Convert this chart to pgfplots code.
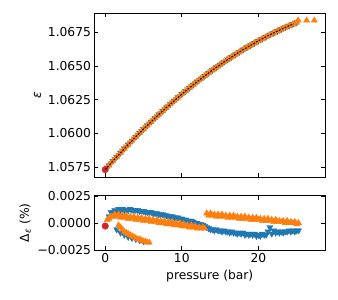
\documentclass[border=0pt]{standalone}
\usepackage{fontspec}
\setmainfont{DejaVu Sans}
\usepackage{pgfplots}
\usepackage{pgfplotstable}
\pgfplotsset{compat=1.18}
\definecolor{tabblue}{HTML}{1F77B4}
\definecolor{taborange}{HTML}{FF7F0E}
\definecolor{tabred}{HTML}{D62728}

\pgfplotstableread{
p eps
0.5 1.05762
1.0 1.05794
1.5 1.05825
2.0 1.05855
2.5 1.05886
3.0 1.05916
3.5 1.05945
4.0 1.05974
4.5 1.06003
5.0 1.06031
5.5 1.06059
6.0 1.06086
6.5 1.06113
7.0 1.06140
7.5 1.06166
8.0 1.06192
8.5 1.06217
9.0 1.06242
9.5 1.06267
10.0 1.06291
10.5 1.06315
11.0 1.06338
11.5 1.06361
12.0 1.06384
12.5 1.06406
13.0 1.06427
13.5 1.06449
14.0 1.06470
14.5 1.06490
15.0 1.06510
15.5 1.06530
16.0 1.06549
16.5 1.06568
17.0 1.06586
17.5 1.06604
18.0 1.06622
18.5 1.06639
19.0 1.06655
19.5 1.06672
20.0 1.06688
20.5 1.06703
21.0 1.06718
21.5 1.06733
22.0 1.06747
22.5 1.06761
23.0 1.06774
23.5 1.06788
24.0 1.06800
24.5 1.06812
25.0 1.06824
}\mainA

\pgfplotstableread{
p eps
0.25 1.05746
0.75 1.05778
1.25 1.05810
1.75 1.05840
2.25 1.05871
2.75 1.05901
3.25 1.05931
3.75 1.05960
4.25 1.05989
4.75 1.06017
5.25 1.06045
5.75 1.06073
6.25 1.06100
6.75 1.06127
7.25 1.06153
7.75 1.06179
8.25 1.06205
8.75 1.06230
9.25 1.06255
9.75 1.06279
10.25 1.06303
10.75 1.06327
11.25 1.06350
11.75 1.06373
12.25 1.06395
12.75 1.06417
13.25 1.06438
13.75 1.06460
14.25 1.06480
14.75 1.06500
15.25 1.06520
15.75 1.06540
16.25 1.06559
16.75 1.06577
17.25 1.06595
17.75 1.06613
18.25 1.06631
18.75 1.06647
19.25 1.06664
19.75 1.06680
20.25 1.06696
20.75 1.06711
21.25 1.06726
21.75 1.06740
22.25 1.06754
22.75 1.06768
23.25 1.06781
23.75 1.06794
24.25 1.06806
24.75 1.06818
}\mainB

\pgfplotstableread{
p eps
25.2 1.06840
26.3 1.06840
27.3 1.06840
}\mainEnd

\pgfplotstableread{
p eps
0.0 1.05730
1.0 1.05794
2.0 1.05855
3.0 1.05916
4.0 1.05974
5.0 1.06031
6.0 1.06086
7.0 1.06140
8.0 1.06192
9.0 1.06242
10.0 1.06291
11.0 1.06338
12.0 1.06384
13.0 1.06427
14.0 1.06470
15.0 1.06510
16.0 1.06549
17.0 1.06586
18.0 1.06622
19.0 1.06655
20.0 1.06688
21.0 1.06718
22.0 1.06747
23.0 1.06774
24.0 1.06800
24.6 1.06815
}\fitline

\pgfplotstableread{
p d
0.5 0.0006
1.0 0.0010
1.5 0.0011
2.0 0.0012
2.5 0.0012
3.0 0.0012
3.5 0.0012
4.0 0.0012
4.5 0.0011
5.0 0.0011
5.5 0.0010
6.0 0.0010
6.5 0.0009
7.0 0.0008
7.5 0.0008
8.0 0.0007
8.5 0.0006
9.0 0.0005
9.5 0.0005
10.0 0.0004
10.5 0.0003
11.0 0.0002
11.5 0.0001
12.0 0.0000
12.5 -0.0001
13.0 -0.0003
13.5 -0.0005
14.0 -0.0006
14.5 -0.0006
15.0 -0.0007
15.5 -0.0007
16.0 -0.0008
16.5 -0.0008
17.0 -0.0009
17.5 -0.0009
18.0 -0.0009
18.5 -0.0010
19.0 -0.0010
19.5 -0.0010
20.0 -0.0011
20.5 -0.0010
21.0 -0.0011
21.5 -0.0004
22.0 -0.0007
22.5 -0.0008
23.0 -0.0008
23.5 -0.0008
24.0 -0.0007
24.5 -0.0007
25.0 -0.0007
}\resBlueA

\pgfplotstableread{
p d
0.75 0.0010
1.25 0.0012
1.75 0.0013
2.25 0.0013
2.75 0.0012
3.25 0.0013
3.75 0.0012
4.25 0.0012
4.75 0.0011
5.25 0.0010
5.75 0.0010
6.25 0.0009
6.75 0.0009
7.25 0.0008
7.75 0.0007
8.25 0.0006
8.75 0.0006
9.25 0.0005
9.75 0.0004
10.25 0.0003
10.75 0.0002
11.25 0.0002
11.75 0.0000
12.25 -0.0001
12.75 -0.0002
13.25 -0.0004
13.75 -0.0006
14.25 -0.0007
14.75 -0.0007
15.25 -0.0008
15.75 -0.0008
16.25 -0.0009
16.75 -0.0009
17.25 -0.0010
17.75 -0.0010
18.25 -0.0011
18.75 -0.0011
19.25 -0.0011
19.75 -0.0012
20.25 -0.0012
20.75 -0.0011
21.25 -0.0008
21.75 -0.0010
22.25 -0.0009
22.75 -0.0009
23.25 -0.0009
23.75 -0.0008
24.25 -0.0008
24.75 -0.0008
25.25 -0.0007
}\resBlueC

\pgfplotstableread{
p d
1.5 -0.0006
2.0 -0.0009
2.5 -0.0011
3.0 -0.0013
3.5 -0.0014
4.0 -0.0015
4.5 -0.0016
5.0 -0.0017
}\resBlueB

\pgfplotstableread{
p d
0.25 0.0003
0.75 0.0006
1.25 0.0008
1.75 0.0008
2.25 0.0007
2.75 0.0007
3.25 0.0006
3.75 0.0006
4.25 0.0005
4.75 0.0005
5.25 0.0004
5.75 0.0004
6.25 0.0003
6.75 0.0003
7.25 0.0002
7.75 0.0002
8.25 0.0001
8.75 0.0001
9.25 0.0000
9.75 0.0000
10.25 -0.0001
10.75 -0.0002
11.25 -0.0002
11.75 -0.0003
12.25 -0.0004
12.75 -0.0004
13.25 0.0009
13.75 0.0009
14.25 0.0008
14.75 0.0008
15.25 0.0008
15.75 0.0007
16.25 0.0007
16.75 0.0007
17.25 0.0006
17.75 0.0006
18.25 0.0006
18.75 0.0005
19.25 0.0005
19.75 0.0005
20.25 0.0004
20.75 0.0004
21.25 0.0004
21.75 0.0003
22.25 0.0003
22.75 0.0002
23.25 0.0002
23.75 0.0002
24.25 0.0001
24.75 0.0001
25.25 0.0000
}\resOrA

\pgfplotstableread{
p d
0.5 0.0004
1.0 0.0006
1.5 0.0006
2.0 0.0005
2.5 0.0005
3.0 0.0004
3.5 0.0004
4.0 0.0003
4.5 0.0003
5.0 0.0002
5.5 0.0002
6.0 0.0001
6.5 0.0001
7.0 0.0000
7.5 0.0000
8.0 -0.0001
8.5 -0.0001
9.0 -0.0002
9.5 -0.0002
10.0 -0.0003
10.5 -0.0003
11.0 -0.0004
11.5 -0.0004
12.0 -0.0005
12.5 -0.0005
13.0 -0.0005
13.5 0.0007
14.0 0.0007
14.5 0.0006
15.0 0.0006
15.5 0.0006
16.0 0.0005
16.5 0.0005
17.0 0.0005
17.5 0.0004
18.0 0.0004
18.5 0.0004
19.0 0.0003
19.5 0.0003
20.0 0.0003
20.5 0.0002
21.0 0.0002
21.5 0.0002
22.0 0.0001
22.5 0.0001
23.0 0.0001
23.5 0.0000
24.0 0.0000
24.5 0.0000
25.0 -0.0001
}\resOrC

\pgfplotstableread{
p d
1.75 -0.0002
2.00 -0.0004
2.25 -0.0006
2.50 -0.0008
2.75 -0.0009
3.00 -0.0010
3.25 -0.0011
3.50 -0.0012
3.75 -0.0013
4.00 -0.0014
4.25 -0.0015
4.50 -0.0015
4.75 -0.0016
5.00 -0.0017
5.25 -0.0017
5.50 -0.0018
5.75 -0.0018
}\resOrB

\pgfplotsset{
  myaxis/.style={
    scale only axis,
    width=230.5bp,
    xmin=-1.4, xmax=28.7,
    tick align=inside,
    major tick length=4bp,
    axis line style={line width=0.8bp},
    every tick/.style={black, line width=0.8bp},
    xtick={0,10,20},
    scaled y ticks=false,
    scaled x ticks=false,
    /pgf/number format/assume math mode=true,
    clip=true,
    clip marker paths=true,
  },
  bluedown/.style={only marks, mark=triangle*, mark size=3.6bp,
    mark options={rotate=180, fill=tabblue, draw=tabblue, line width=0.3bp}},
  orup/.style={only marks, mark=triangle*, mark size=3.6bp,
    mark options={fill=taborange, draw=taborange, line width=0.3bp}},
  ordown/.style={only marks, mark=triangle*, mark size=3.6bp,
    mark options={rotate=180, fill=taborange, draw=taborange, line width=0.3bp}},
}

\begin{document}
\begin{tikzpicture}[font=\fontsize{12.3bp}{14bp}\selectfont]
\path[use as bounding box] (0,0) rectangle (338bp,300bp);

\begin{axis}[myaxis,
  at={(94.5bp,123bp)}, anchor=south west,
  height=164bp,
  ymin=1.05675, ymax=1.06895,
  ytick={1.0575,1.06,1.0625,1.065,1.0675},
  yticklabels={1.0575,1.0600,1.0625,1.0650,1.0675},
  xticklabels={},
  ylabel={\itshape ε},
]
\addplot[bluedown] table[x=p,y=eps] {\mainA};
\addplot[orup, opacity=0.9] table[x=p,y=eps] {\mainA};
\addplot[ordown, opacity=0.9] table[x=p,y=eps] {\mainB};
\addplot[orup] table[x=p,y=eps] {\mainEnd};
\addplot[only marks, mark=*, mark size=3.3bp, mark options={fill=tabred, draw=tabred}] coordinates {(0,1.05730)};
\addplot[black, line width=1.0bp, dash pattern=on 1.8bp off 1.4bp] table[x=p,y=eps] {\fitline};
\end{axis}

\begin{axis}[myaxis,
  at={(94.5bp,50bp)}, anchor=south west,
  height=54.5bp,
  ymin=-0.0025, ymax=0.00255,
  ytick={-0.0025,0,0.0025},
  yticklabels={−0.0025,0.0000,0.0025},
  xticklabels={0,10,20},
  xlabel={pressure (bar)},
  ylabel={Δ\textsubscript{\itshape ε} (\%)},
]
\addplot[bluedown] table[x=p,y=d] {\resBlueA};
\addplot[bluedown] table[x=p,y=d] {\resBlueC};
\addplot[bluedown] table[x=p,y=d] {\resBlueB};
\addplot[orup] table[x=p,y=d] {\resOrA};
\addplot[orup] table[x=p,y=d] {\resOrC};
\addplot[orup] table[x=p,y=d] {\resOrB};
\addplot[only marks, mark=*, mark size=3.3bp, mark options={fill=tabred, draw=tabred}] coordinates {(0,-0.00028)};
\end{axis}
\end{tikzpicture}
\end{document}
